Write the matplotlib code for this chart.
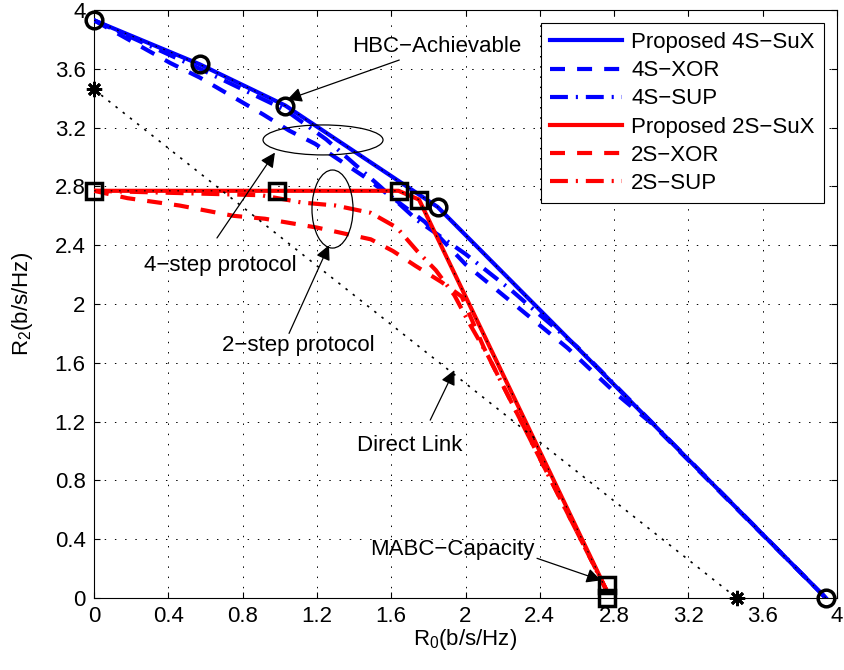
import matplotlib
matplotlib.use('Agg')
import matplotlib.pyplot as plt
from matplotlib.patches import Ellipse

plt.rcParams['font.family'] = ['Liberation Sans', 'DejaVu Sans']
plt.rcParams['mathtext.default'] = 'regular'
plt.rcParams['font.size'] = 16

# 4-step curves
sux4_x = [0, 0.57, 1.03, 1.85, 3.94]
sux4_y = [3.93, 3.63, 3.35, 2.66, 0]
xor4_x = [0, 0.41, 0.57, 0.91, 1.05, 1.19, 1.45, 1.78, 2.0, 2.28, 2.55, 2.82, 3.0, 3.94]
xor4_y = [3.93, 3.64, 3.54, 3.29, 3.18, 3.09, 2.87, 2.56, 2.27, 1.98, 1.70, 1.38, 1.19, 0]
sup4_x = [0, 0.57, 1.03, 1.25, 1.54, 1.74, 2.0, 2.25, 2.35, 2.6, 3.94]
sup4_y = [3.93, 3.60, 3.32, 3.12, 2.80, 2.57, 2.34, 2.09, 1.98, 1.71, 0]

# 2-step curves
sux2_x = [0, 1.64, 1.75, 2.76]
sux2_y = [2.77, 2.77, 2.71, 0.05]
xor2_x = [0, 0.18, 0.46, 0.75, 0.92, 1.2, 1.49, 1.61, 1.73, 1.87, 1.98, 2.10, 2.76]
xor2_y = [2.77, 2.72, 2.67, 2.60, 2.58, 2.52, 2.44, 2.36, 2.26, 2.15, 2.05, 1.70, 0.05]
sup2_x = [0, 0.9, 1.12, 1.30, 1.49, 1.63, 1.74, 1.84, 1.94, 2.02, 2.12, 2.76]
sup2_y = [2.77, 2.74, 2.69, 2.67, 2.62, 2.52, 2.36, 2.23, 2.06, 1.87, 1.65, 0.05]

# direct link
dl_x = [0, 3.46]
dl_y = [3.46, 0]

# marker points
hbc_px = [0, 0.57, 1.03, 1.85, 3.94]
hbc_py = [3.93, 3.63, 3.35, 2.66, 0]
mabc_px = [0, 0.985, 1.64, 1.75, 2.76, 2.76]
mabc_py = [2.77, 2.77, 2.77, 2.71, 0.09, 0.0]

ticks = [0, 0.4, 0.8, 1.2, 1.6, 2, 2.4, 2.8, 3.2, 3.6, 4]
tick_labels = ['0', '0.4', '0.8', '1.2', '1.6', '2', '2.4', '2.8', '3.2', '3.6', '4']

fig = plt.figure(figsize=(8.44, 6.70), dpi=100)
ax = fig.add_axes([94/844, 72/670, 743/844, 588/670])

lw = 3
dash = (0, (3.6, 2.9))
dashdot = (0, (4.3, 1.9, 0.5, 1.9))

ax.plot(xor4_x, xor4_y, color='b', lw=lw, ls=dash, label='4S\u2212XOR', zorder=3)
ax.plot(sup4_x, sup4_y, color='b', lw=lw, ls=dashdot, label='4S\u2212SUP', zorder=3)
ax.plot(sux4_x, sux4_y, color='b', lw=lw, ls='-', label='Proposed 4S\u2212SuX', zorder=4)
ax.plot(xor2_x, xor2_y, color='r', lw=lw, ls=dash, label='2S\u2212XOR', zorder=3)
ax.plot(sup2_x, sup2_y, color='r', lw=lw, ls=dashdot, label='2S\u2212SUP', zorder=3)
ax.plot(sux2_x, sux2_y, color='r', lw=lw, ls='-', label='Proposed 2S\u2212SuX', zorder=4)

# bounds (black dotted) drawn on top
ax.plot(sux4_x, sux4_y, color='k', lw=0.8, ls=(0, (1.5, 6)), zorder=5)
ax.plot(sux2_x, sux2_y, color='k', lw=0.8, ls=(0, (1.5, 6)), zorder=5)
ax.plot(dl_x, dl_y, color='k', lw=1.2, ls=(0, (1.5, 4)), zorder=5)

ax.plot(hbc_px, hbc_py, 'o', ms=12, mfc='none', mec='k', mew=2.5, zorder=6, clip_on=False)
ax.plot(mabc_px, mabc_py, 's', ms=11, mfc='none', mec='k', mew=2.5, zorder=6, clip_on=False)
ax.plot(dl_x, dl_y, marker=(8, 2, 0), ls='none', ms=11, mec='k', mew=2, zorder=6, clip_on=False)

ax.add_patch(Ellipse((1.233, 3.116), 0.646, 0.204, fill=False, ec='k', lw=0.9, zorder=6))
ax.add_patch(Ellipse((1.284, 2.646), 0.221, 0.531, fill=False, ec='k', lw=0.9, zorder=6))

ap = dict(arrowstyle='-|>', color='k', lw=0.9, mutation_scale=22, shrinkA=0, shrinkB=0)
ax.annotate('HBC\u2212Achievable', xy=(1.04, 3.39), xytext=(1.39, 3.75),
            ha='left', va='center', arrowprops=ap, zorder=7)
ax.text(0.678, 2.265, '4\u2212step protocol', ha='center', va='center')
ax.annotate('', xy=(0.974, 3.03), xytext=(0.662, 2.449), arrowprops=dict(ap), zorder=7)
ax.text(1.098, 1.72, '2\u2212step protocol', ha='center', va='center')
ax.annotate('', xy=(1.265, 2.40), xytext=(1.05, 1.80), arrowprops=dict(ap), zorder=7)
ax.text(1.70, 1.04, 'Direct Link', ha='center', va='center')
ax.annotate('', xy=(1.94, 1.55), xytext=(1.81, 1.21), arrowprops=dict(ap), zorder=7)
ax.text(1.93, 0.33, 'MABC\u2212Capacity', ha='center', va='center')
ax.annotate('', xy=(2.73, 0.12), xytext=(2.385, 0.27), arrowprops=dict(ap), zorder=7)

ax.set_xlim(0, 4)
ax.set_ylim(0, 4)
ax.set_xticks(ticks)
ax.set_xticklabels(tick_labels)
ax.set_yticks(ticks)
ax.set_yticklabels(tick_labels)
ax.tick_params(direction='in', length=4, top=True, right=True, labelsize=16, pad=6)
ax.grid(True, color='k', lw=0.7, ls=(0, (1.5, 9)))
for s in ax.spines.values():
    s.set_linewidth(0.8)

ax.set_xlabel('R$_0$(b/s/Hz)', fontsize=16, labelpad=0)
ax.set_ylabel('R$_2$(b/s/Hz)', fontsize=16, labelpad=14)

h, l = ax.get_legend_handles_labels()
order = [2, 0, 1, 5, 3, 4]
leg = ax.legend([h[i] for i in order], [l[i] for i in order], loc='upper right',
                fontsize=16, handlelength=3.25, handletextpad=0.4, labelspacing=0.32,
                borderaxespad=0.6, fancybox=False, framealpha=1, edgecolor='k')
leg.get_frame().set_linewidth(0.8)

fig.savefig('out.png', dpi=100)
